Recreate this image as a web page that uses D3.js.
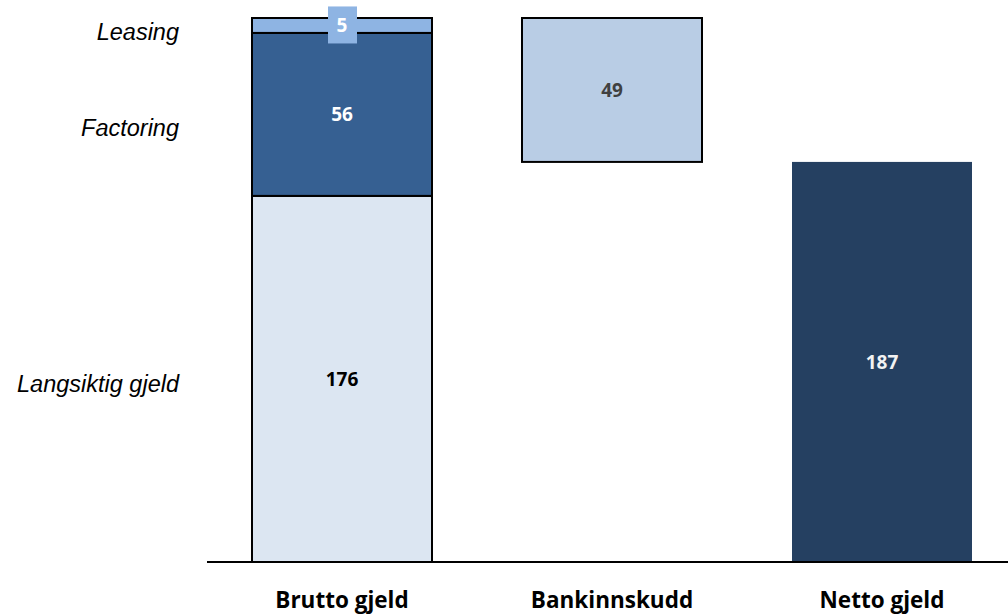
<!DOCTYPE html>
<html>
<head>
<meta charset="utf-8">
<script src="https://cdn.jsdelivr.net/npm/d3@7"></script>
<style>
  body { margin: 0; background: #fff; }
</style>
</head>
<body>
<svg width="1008" height="615"></svg>
<script>
// categories along the x axis
var categories = ["Brutto gjeld", "Bankinnskudd", "Netto gjeld"];

// stacked parts of the gross debt bar (bottom to top)
var segments = ["Langsiktig gjeld", "Factoring", "Leasing"];
var segmentLabels = [176, 56, 5];
// drawn size of each part (the source is not to scale)
var segmentHeights = [159.5, 71, 6.5];

var bankLabel = 49;
var bankHeight = 62.7;
var netLabel = 187;

var svg = d3.select("svg"), width = +svg.attr("width"), height = +svg.attr("height");

var total = d3.sum(segmentHeights);
var netHeight = total - bankHeight;

var x = d3.scaleBand().domain(categories).range([207, 1017])
    .paddingInner(1 / 3).paddingOuter(1 / 6);
var y = d3.scaleLinear().domain([0, total]).range([562, 18]);

var segColors = ["#dce6f2", "#366092", "#8eb4e3"];
var segText = ["#000000", "#ffffff", "#ffffff"];

// build stacked data for the first bar
var stack = [];
var acc = 0;
segmentHeights.forEach(function(h, i) {
  stack.push({ name: segments[i], label: segmentLabels[i], y0: acc, y1: acc + h, color: segColors[i], text: segText[i] });
  acc += h;
});

var bars = [
  { cat: categories[1], y0: total - bankHeight, y1: total, label: bankLabel, color: "#b9cde5", stroke: "#000", text: "#404040" },
  { cat: categories[2], y0: 0, y1: netHeight, label: netLabel, color: "#254061", stroke: "none", text: "#f2f2f2" }
];

// gross debt stack
svg.append("g").selectAll("rect").data(stack).enter().append("rect")
  .attr("x", x(categories[0]))
  .attr("width", x.bandwidth())
  .attr("y", function(d) { return y(d.y1); })
  .attr("height", function(d) { return y(d.y0) - y(d.y1); })
  .attr("fill", function(d) { return d.color; })
  .attr("stroke", "#000")
  .attr("stroke-width", 2);

// bank deposits + net debt
svg.append("g").selectAll("rect").data(bars).enter().append("rect")
  .attr("x", function(d) { return x(d.cat); })
  .attr("width", x.bandwidth())
  .attr("y", function(d) { return y(d.y1); })
  .attr("height", function(d) { return y(d.y0) - y(d.y1); })
  .attr("fill", function(d) { return d.color; })
  .attr("stroke", function(d) { return d.stroke; })
  .attr("stroke-width", 2);

// baseline
svg.append("line")
  .attr("x1", 207).attr("x2", width)
  .attr("y1", y(0)).attr("y2", y(0))
  .attr("stroke", "#000").attr("stroke-width", 2);

var labelFont = "'Open Sans', sans-serif";

// value labels in the stack
var cx0 = x(categories[0]) + x.bandwidth() / 2;
stack.forEach(function(d, i) {
  var cy = (y(d.y0) + y(d.y1)) / 2;
  if (i === 2) {
    // small leasing part: label sits on its own box
    svg.append("rect")
      .attr("x", cx0 - 14).attr("y", cy - 19)
      .attr("width", 29).attr("height", 37)
      .attr("fill", d.color);
  }
  svg.append("text")
    .attr("x", cx0).attr("y", cy)
    .attr("dy", "0.36em")
    .attr("text-anchor", "middle")
    .style("font-family", labelFont).style("font-weight", "bold").style("font-size", "19px")
    .attr("fill", d.text)
    .text(d.label);
});

bars.forEach(function(d) {
  svg.append("text")
    .attr("x", x(d.cat) + x.bandwidth() / 2)
    .attr("y", (y(d.y0) + y(d.y1)) / 2)
    .attr("dy", "0.36em")
    .attr("text-anchor", "middle")
    .style("font-family", labelFont).style("font-weight", "bold").style("font-size", "19px")
    .attr("fill", d.text)
    .text(d.label);
});

// segment names on the left
var nudge = [5, 13, 6];
stack.forEach(function(d, i) {
  svg.append("text")
    .attr("x", 179)
    .attr("y", (y(d.y0) + y(d.y1)) / 2 + nudge[i])
    .attr("dy", "0.36em")
    .attr("text-anchor", "end")
    .style("font-family", "'Liberation Sans', Arial, sans-serif")
    .style("font-style", "italic").style("font-size", "23.5px")
    .attr("fill", "#000")
    .text(d.name);
});

// category labels
svg.append("g").selectAll("text").data(categories).enter().append("text")
  .attr("x", function(d) { return x(d) + x.bandwidth() / 2; })
  .attr("y", 608)
  .attr("text-anchor", "middle")
  .style("font-family", labelFont).style("font-weight", "bold").style("font-size", "22.5px")
  .attr("fill", "#000")
  .text(function(d) { return d; });
</script>
</body>
</html>
